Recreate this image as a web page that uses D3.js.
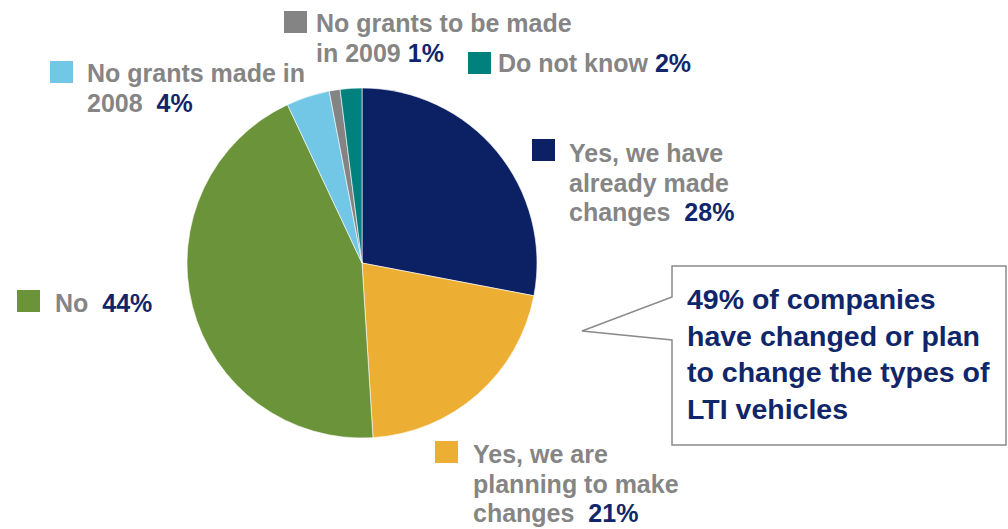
<!DOCTYPE html>
<html>
<head>
<meta charset="utf-8">
<script src="https://cdn.jsdelivr.net/npm/d3@7"></script>
<style>
  html, body { margin: 0; padding: 0; background: #fff; }
  svg text { font-family: "Liberation Sans", Arial, sans-serif; font-weight: bold; white-space: pre; }
</style>
</head>
<body>
<svg id="chart" width="1008" height="529"></svg>
<script>
// Survey answers, in clockwise order starting from 12 o'clock
const categories = [
  "Yes, we have already made changes",
  "Yes, we are planning to make changes",
  "No",
  "No grants made in 2008",
  "No grants to be made in 2009",
  "Do not know"
];
const values = [28, 21, 44, 4, 1, 2];
const colors = ["#0c2163", "#edaf33", "#6b9339", "#72c7e7", "#848484", "#00817e"];

// Legend label text split into lines; the percentage is appended to the last line
const labelLines = [
  ["Yes, we have", "already made", "changes"],
  ["Yes, we are", "planning to make", "changes"],
  ["No"],
  ["No grants made in", "2008"],
  ["No grants to be made", "in 2009"],
  ["Do not know"]
];
const valueGap = ["  ", "  ", "  ", "  ", " ", " "];

// Legend placement: swatch top-left, text x, first baseline, line step
const legendPos = [
  { sx: 532, sy: 139, tx: 569, ty: 162, step: 29.5 },
  { sx: 435, sy: 441, tx: 473, ty: 463, step: 29.5 },
  { sx: 17,  sy: 290, tx: 55,  ty: 312, step: 29.5 },
  { sx: 50,  sy: 61,  tx: 87,  ty: 82,  step: 30 },
  { sx: 284, sy: 11,  tx: 316, ty: 32,  step: 29.5 },
  { sx: 468, sy: 52,  tx: 498, ty: 72,  step: 29.5 }
];

const calloutLines = [
  "49% of companies",
  "have changed or plan",
  "to change the types of",
  "LTI vehicles"
];

const svg = d3.select("#chart");
const cx = 362, cy = 263, radius = 175;

const pie = d3.pie().sort(null).value(d => d)(values);
const arc = d3.arc().innerRadius(0).outerRadius(radius);

svg.append("g")
  .attr("transform", `translate(${cx},${cy})`)
  .selectAll("path")
  .data(pie)
  .join("path")
  .attr("d", arc)
  .attr("fill", (d, i) => colors[i])
  .attr("stroke", "#ffffff")
  .attr("stroke-width", 0.6);

// Legend entries
const legend = svg.append("g");
categories.forEach((c, i) => {
  const p = legendPos[i];
  legend.append("rect")
    .attr("x", p.sx).attr("y", p.sy)
    .attr("width", 23).attr("height", 22)
    .attr("fill", colors[i]);
  const t = legend.append("text")
    .attr("font-size", 25)
    .attr("fill", "#858585");
  const lines = labelLines[i];
  lines.forEach((ln, j) => {
    const ts = t.append("tspan")
      .attr("x", p.tx)
      .attr("y", p.ty + j * p.step)
      .text(ln);
    if (j === lines.length - 1) {
      t.append("tspan")
        .text(valueGap[i]);
      t.append("tspan")
        .attr("fill", "#10266a")
        .text(values[i] + "%");
    }
  });
});

// Speech-bubble callout
const bx = 672, by = 266, bw = 334, bh = 179;
const tip = { x: 582, y: 331 };
const callout = svg.append("g");
callout.append("path")
  .attr("d", `M${bx},${by} L${bx + bw},${by} L${bx + bw},${by + bh} L${bx},${by + bh} L${bx},340 L${tip.x},${tip.y} L${bx},297 Z`)
  .attr("fill", "#ffffff")
  .attr("stroke", "#8a8a8a")
  .attr("stroke-width", 1.5);

callout.append("text")
  .attr("font-size", 28.5)
  .attr("fill", "#10266a")
  .selectAll("tspan")
  .data(calloutLines)
  .join("tspan")
  .attr("x", 687)
  .attr("y", (d, i) => 309 + i * 36.5)
  .text(d => d);
</script>
</body>
</html>
